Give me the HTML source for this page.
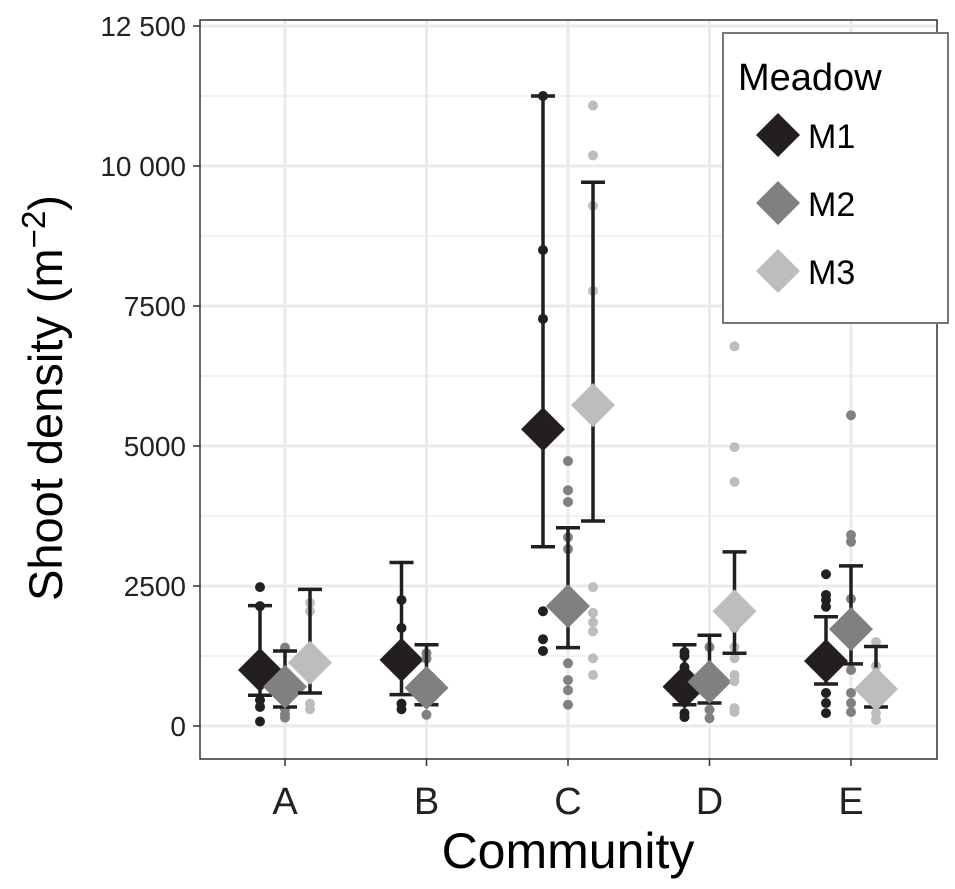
<!DOCTYPE html>
<html><head><meta charset="utf-8"><style>
body{margin:0;background:#fff}
svg text{font-family:"Liberation Sans",Arial,sans-serif}
</style></head><body>
<svg id="chart" width="955" height="884" xmlns="http://www.w3.org/2000/svg">
<g id="grid"></g>
<g id="marks"></g>
<rect x="200" y="20" width="737" height="739" fill="none" stroke="#333" stroke-width="1.5"/>
<g id="axes"></g>
<text transform="translate(62,398) rotate(-90)" text-anchor="middle" font-size="47" fill="#000">Shoot density (m<tspan dy="-17" font-size="33">−2</tspan><tspan dy="17">)</tspan></text>
<text x="568" y="868" text-anchor="middle" font-size="50" fill="#000">Community</text>
<g>
<rect x="723" y="33" width="225" height="290" fill="#fff" stroke="#777" stroke-width="2"/>
<text x="738" y="90" font-size="38" fill="#000">Meadow</text>
<g><polygon points="778,113 800,135 778,157 756,135" fill="#231f20"/><text x="808" y="148" font-size="34">M1</text></g>
<g><polygon points="778,181 800,203 778,225 756,203" fill="#808080"/><text x="808" y="216" font-size="34">M2</text></g>
<g><polygon points="778,249 800,271 778,293 756,271" fill="#bdbdbd"/><text x="808" y="284" font-size="34">M3</text></g>
</g>
</svg>
<script>
const categories=["A","B","C","D","E"];
const meadows=["M1","M2","M3"];
const colors=["#231f20","#808080","#bdbdbd"];
const yTicks=[0,2500,5000,7500,10000,12500];
const yTickLabels=["0","2500","5000","7500","10 000","12 500"];
const means=[[1000,700,1130],[1180,680,null],[5300,2140,5730],[700,790,2050],[1160,1730,660]];
const lowers=[[550,340,590],[560,380,null],[3200,1400,3660],[380,410,1300],[750,1110,340]];
const uppers=[[2150,1340,2440],[2920,1450,null],[11250,3540,9710],[1450,1620,3110],[1950,2860,1420]];
const pointsM1=[[2480,2140,460,340,80],[2250,1750,400,300],[11250,8500,7270,2050,1550,1340],[1320,1250,1050,230,160],[2710,2340,2250,2130,590,410,230]];
const pointsM2=[[1400,300,200,150],[1300,1200,200],[4730,4210,4000,3370,3160,1120,820,640,380],[1410,290,140],[5550,3410,3290,2270,1000,590,410,250]];
const pointsM3=[[2200,2050,1400,400,300],[],[11080,10190,9290,7770,2480,2020,1850,1690,1210,910],[6780,4980,4360,1750,1410,1210,910,800,320,250],[1500,1070,230,110]];
const pts=[pointsM1,pointsM2,pointsM3];
const NS="http://www.w3.org/2000/svg";
const y=v=>726-0.056*v;
const x=i=>285+i*141.5;
const off=[-25,0,25];
function mk(tag,attrs,parent){const e=document.createElementNS(NS,tag);for(const k in attrs)e.setAttribute(k,attrs[k]);parent.appendChild(e);return e;}
const grid=document.getElementById('grid'),marks=document.getElementById('marks'),axes=document.getElementById('axes');
for(let v=1250;v<12500;v+=2500){const g=mk('line',{x1:200,x2:937,y1:y(v),y2:y(v),stroke:'#f2f2f2','stroke-width':2},grid);

}
yTicks.forEach((v,i)=>{const g=mk('line',{x1:200,x2:937,y1:y(v),y2:y(v),stroke:'#ebebeb','stroke-width':3},grid);


const t=mk('line',{x1:193,x2:200,y1:y(v),y2:y(v),stroke:'#333','stroke-width':1.5},axes);


const l=mk('text',{x:186,y:y(v)+10,'text-anchor':'end','font-size':28,fill:'#222'},axes);l.textContent=yTickLabels[i];

});
categories.forEach((c,i)=>{const g=mk('line',{x1:x(i),x2:x(i),y1:20,y2:759,stroke:'#ebebeb','stroke-width':3},grid);


const t=mk('line',{x1:x(i),x2:x(i),y1:759,y2:766,stroke:'#333','stroke-width':1.5},axes);


const l=mk('text',{x:x(i),y:814,'text-anchor':'middle','font-size':38,fill:'#222'},axes);l.textContent=c;

});
for(let m=0;m<3;m++){categories.forEach((c,i)=>{
 pts[m][i].forEach(v=>{const p=mk('circle',{cx:x(i)+off[m],cy:y(v),r:5,fill:colors[m]},marks);
 
 });
 if(means[i][m]==null)return;
 const cx=x(i)+off[m];
 const eg=mk('g',{stroke:'#231f20','stroke-width':3.5},marks);
 
 
 mk('line',{x1:cx,x2:cx,y1:y(uppers[i][m]),y2:y(lowers[i][m])},eg);
 mk('line',{x1:cx-12,x2:cx+12,y1:y(uppers[i][m]),y2:y(uppers[i][m])},eg);
 mk('line',{x1:cx-12,x2:cx+12,y1:y(lowers[i][m]),y2:y(lowers[i][m])},eg);
 const cy=y(means[i][m]),s=22;
 const d=mk('polygon',{points:`${cx},${cy-s} ${cx+s},${cy} ${cx},${cy+s} ${cx-s},${cy}`,fill:colors[m]},marks);
 
 
});}
</script>
</body></html>
